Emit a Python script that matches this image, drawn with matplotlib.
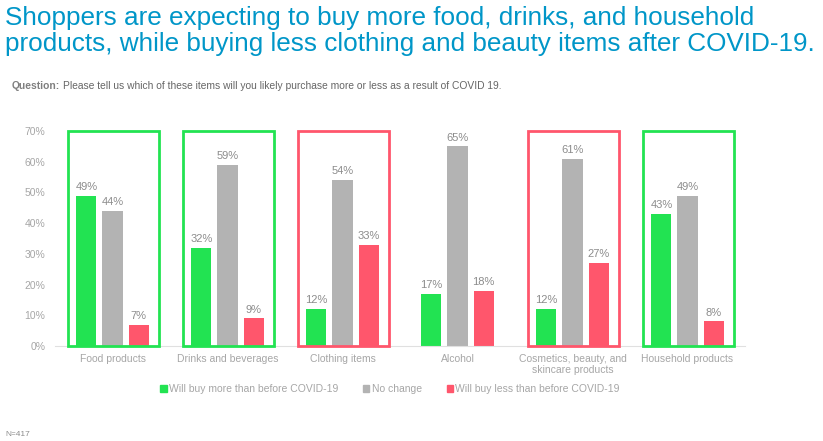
import numpy as np
import matplotlib.pyplot as plt
from matplotlib.patches import Rectangle, Patch

plt.rcParams['font.family'] = ['Liberation Sans', 'DejaVu Sans']

categories = ['Food products', 'Drinks and beverages', 'Clothing items', 'Alcohol',
              'Cosmetics, beauty, and\nskincare products', 'Household products']
more = [49, 32, 12, 17, 12, 43]
nochange = [44, 59, 54, 65, 61, 49]
less = [7, 9, 33, 18, 27, 8]
series_names = ['Will buy more than before COVID-19', 'No change', 'Will buy less than before COVID-19']
box_kind = ['more', 'more', 'less', None, 'less', 'more']

GREEN = '#22E352'
GRAY = '#B3B3B3'
RED = '#FF566C'
TXT = '#A6A6A6'

fig = plt.figure(figsize=(8.23, 4.41), dpi=100)
ax = fig.add_axes([55 / 823, 1 - 346 / 441, 690 / 823, 215 / 441])

x = np.arange(len(categories))
w = 0.175
off = 0.227
for vals, dx, c in [(more, -off, GREEN), (nochange, 0, GRAY), (less, off, RED)]:
    bars = ax.bar(x + dx, vals, w, color=c, zorder=2)
    for b, v in zip(bars, vals):
        ax.text(b.get_x() + b.get_width() / 2, v + 1.2, '%d%%' % v, ha='center', va='bottom',
                fontsize=8, color='#8C8C8C')

for i, k in enumerate(box_kind):
    if k is None:
        continue
    ec = GREEN if k == 'more' else RED
    ax.add_patch(Rectangle((i - 0.385, 0), 0.785, 70, fill=False, ec=ec, lw=2, zorder=3, clip_on=False))

ax.set_xlim(-0.5, len(categories) - 0.5)
ax.set_ylim(0, 70)
ax.set_yticks(range(0, 71, 10))
ax.set_yticklabels(['%d%%' % t for t in range(0, 71, 10)])
ax.set_xticks(x)
ax.set_xticklabels(categories, linespacing=1.1)
ax.tick_params(length=0, labelsize=7.5, labelcolor=TXT)
ax.tick_params(axis='x', pad=6)
ax.tick_params(axis='y', pad=7)
for s in ['top', 'right', 'left']:
    ax.spines[s].set_visible(False)
ax.spines['bottom'].set_color('#E0E0E0')

handles = [Patch(color=GREEN), Patch(color=GRAY), Patch(color=RED)]
leg = fig.legend(handles, series_names, loc='center', bbox_to_anchor=(390 / 823, 1 - 389 / 441),
                 ncol=3, frameon=False, fontsize=7.5, handlelength=0.6, handleheight=0.6,
                 handletextpad=0.2, columnspacing=2.4)
for t in leg.get_texts():
    t.set_color(TXT)

fig.text(5 / 823, 1 - 6 / 441, 'Shoppers are expecting to buy more food, drinks, and household\n'
         'products, while buying less clothing and beauty items after COVID-19.',
         ha='left', va='top', fontsize=18.8, color='#0096C8', linespacing=1.1)
q = fig.text(12 / 823, 1 - 86 / 441, 'Question:', ha='left', va='center', fontsize=7.4,
             color='#7F7F7F', fontweight='bold')
fig.canvas.draw()
bb = q.get_window_extent()
fig.text((bb.x1 + 3) / 823, 1 - 86 / 441,
         'Please tell us which of these items will you likely purchase more or less as a result of COVID 19.',
         ha='left', va='center', fontsize=7.4, color='#666666')
fig.text(5 / 823, 1 - 434 / 441, 'N=417', ha='left', va='center', fontsize=6, color='#8C8C8C')

fig.savefig('out.png', dpi=100)
